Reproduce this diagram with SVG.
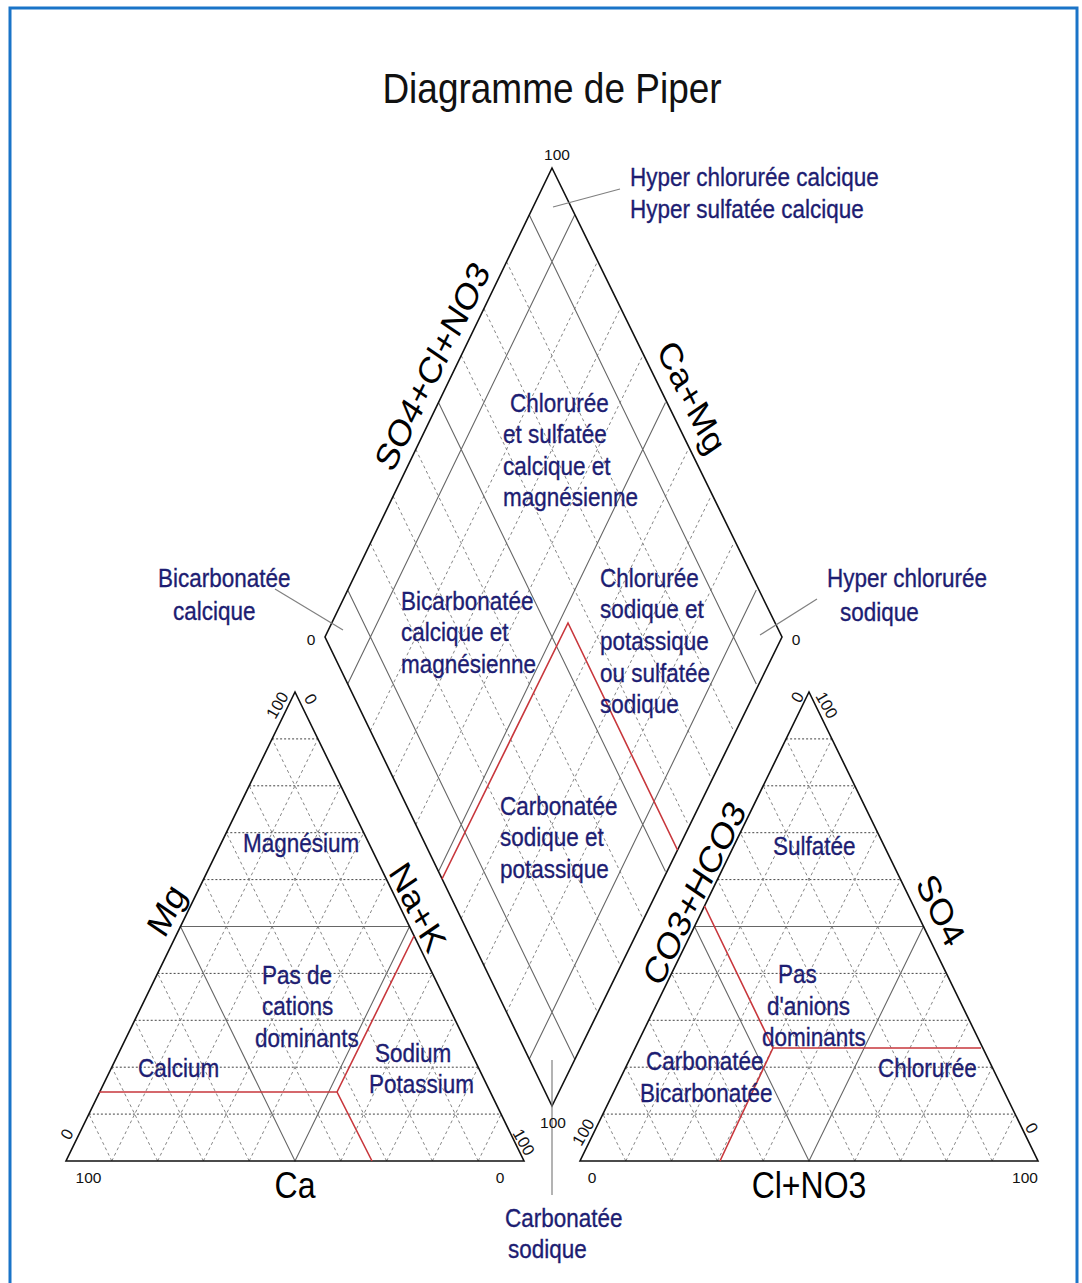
<svg xmlns="http://www.w3.org/2000/svg" xmlns:xlink="http://www.w3.org/1999/xlink" width="1082" height="1283" viewBox="0 0 1082 1283">
<style>
.edge{stroke:#111;stroke-width:1.6;fill:none;stroke-linejoin:miter}
.solid{stroke:#666;stroke-width:1.1;fill:none}
.dash{stroke:#858585;stroke-width:1;stroke-dasharray:3 3;fill:none}
.hdash{stroke:#444;stroke-width:1;stroke-dasharray:2 2;fill:none}
.red{stroke:#c8373c;stroke-width:1.6;fill:none}
.lead{stroke:#808080;stroke-width:1.2;fill:none}
text{font-family:"Liberation Sans",Arial,sans-serif}
.lbl{font-size:22.5px;fill:#1d1d72;stroke:#1d1d72;stroke-width:0.3}
.axis{font-size:32px;fill:#000}
.tick{font-size:15.5px;fill:#111}
.rt{font-size:16.5px}
.title{font-size:37px;fill:#111}
</style>
<defs>
<g id="tri">
<path class="hdash" d="M88.9,1114.1H501.1M111.8,1067.2H478.2M134.7,1020.3H455.3M157.6,973.4H432.4M203.4,879.6H386.6M226.3,832.7H363.7M249.2,785.8H340.8M272.1,738.9H317.9"/>
<path class="dash" d="M111.8,1161L317.9,738.9M157.6,1161L340.8,785.8M203.4,1161L363.7,832.7M249.2,1161L386.6,879.6M340.8,1161L432.4,973.4M386.6,1161L455.3,1020.3M432.4,1161L478.2,1067.2M478.2,1161L501.1,1114.1M111.8,1161L88.9,1114.1M157.6,1161L111.8,1067.2M203.4,1161L134.7,1020.3M249.2,1161L157.6,973.4M340.8,1161L203.4,879.6M386.6,1161L226.3,832.7M432.4,1161L249.2,785.8M478.2,1161L272.1,738.9"/>
<path class="solid" d="M180.5,926.5H409.5L295,1161Z"/>
<path class="edge" d="M66,1161H524L295,692Z"/>
</g>
</defs>
<rect x="0" y="0" width="1082" height="1283" fill="#fff"/>
<rect x="10" y="8" width="1067" height="1300" fill="none" stroke="#1a74c8" stroke-width="3"/>

<text class="title" text-anchor="middle" transform="translate(552,103) scale(1,1.15)">Diagramme de Piper</text>

<g id="diamond">
<path class="dash" d="M370.4,543.2L597.4,1012.2M393.1,496.3L620.1,965.3M415.8,449.4L642.8,918.4M461.2,355.6L688.2,824.6M483.9,308.7L710.9,777.7M506.6,261.8L733.6,730.8M370.4,730.8L597.4,261.8M393.1,777.7L620.1,308.7M415.8,824.6L642.8,355.6M461.2,918.4L688.2,449.4M483.9,965.3L710.9,496.3M506.6,1012.2L733.6,543.2"/>
<path class="solid" d="M347.7,590.1L574.7,1059.1M438.5,402.5L665.5,871.5M529.3,214.9L756.3,683.9M347.7,683.9L574.7,214.9M438.5,871.5L665.5,402.5M529.3,1059.1L756.3,590.1"/>
<path class="edge" d="M552,168L782,637L552,1106L325,637Z"/>
</g>

<g id="left-triangle"><use xlink:href="#tri" href="#tri"/></g>
<g id="right-triangle"><use xlink:href="#tri" href="#tri" x="514"/></g>

<g id="connectors">
<path class="red" d="M99,1092H337L372,1161M337,1092L414,936"/>
<path class="red" d="M442,879L568,623L677.5,850"/>
<path class="red" d="M704.5,906L773,1048H981M773,1048L720,1161"/>
<path class="lead" d="M553,207L620,189"/>
<path class="lead" d="M275,589L343,630"/>
<path class="lead" d="M817,599L760,635"/>
<path class="lead" d="M552,1060V1195"/>
</g>

<g id="axis-labels" class="axis" text-anchor="middle" dominant-baseline="central">
<text transform="translate(432,366) scale(1,1.182) rotate(-60)">SO4+Cl+NO3</text>
<text transform="translate(692,397) scale(1,1.182) rotate(60)">Ca+Mg</text>
<text transform="translate(166,910) scale(1,1.182) rotate(-60)">Mg</text>
<text transform="translate(418,907) scale(1,1.182) rotate(60)">Na+K</text>
<text transform="translate(694,893) scale(1,1.182) rotate(-60)">CO3+HCO3</text>
<text transform="translate(941,910) scale(1,1.182) rotate(60)">SO4</text>
</g>
<g id="base-labels" class="axis" text-anchor="middle">
<text transform="translate(295,1198) scale(1,1.15)">Ca</text>
<text transform="translate(809,1198) scale(1,1.15)">Cl+NO3</text>
</g>

<g id="ticks" class="tick" text-anchor="middle">
<text x="557" y="160">100</text>
<text x="553" y="1128">100</text>
<text x="311" y="645">0</text>
<text x="796" y="645">0</text>
<text x="88.5" y="1183">100</text>
<text x="500" y="1183">0</text>
<text x="592" y="1183">0</text>
<text x="1025" y="1183">100</text>
<g class="rt" dominant-baseline="central">
<text transform="translate(277,705) rotate(-60)">100</text>
<text transform="translate(311,699) rotate(60)">0</text>
<text transform="translate(66.5,1134) rotate(-60)">0</text>
<text transform="translate(524,1142) rotate(60)">100</text>
<text transform="translate(797,697) rotate(-60)">0</text>
<text transform="translate(827,705) rotate(60)">100</text>
<text transform="translate(583,1132) rotate(-60)">100</text>
<text transform="translate(1032,1128) rotate(60)">0</text>
</g>
</g>

<g id="region-labels" class="lbl">
<text transform="translate(630,186) scale(1,1.15)"><tspan x="0" y="0">Hyper chlorurée calcique</tspan><tspan x="0" dy="27.8">Hyper sulfatée calcique</tspan></text>
<text transform="translate(503,412) scale(1,1.15)"><tspan x="7" y="0">Chlorurée</tspan><tspan x="0" dy="27.2">et sulfatée</tspan><tspan x="0" dy="27.2">calcique et</tspan><tspan x="0" dy="27.2">magnésienne</tspan></text>
<text transform="translate(401,610) scale(1,1.15)"><tspan x="0" y="0">Bicarbonatée</tspan><tspan x="0" dy="27.4">calcique et</tspan><tspan x="0" dy="27.4">magnésienne</tspan></text>
<text transform="translate(600,587) scale(1,1.15)"><tspan x="0" y="0">Chlorurée</tspan><tspan x="0" dy="27.4">sodique et</tspan><tspan x="0" dy="27.4">potassique</tspan><tspan x="0" dy="27.4">ou sulfatée</tspan><tspan x="0" dy="27.4">sodique</tspan></text>
<text transform="translate(500,815) scale(1,1.15)"><tspan x="0" y="0">Carbonatée</tspan><tspan x="0" dy="27.4">sodique et</tspan><tspan x="0" dy="27.4">potassique</tspan></text>
<text transform="translate(243,852) scale(1,1.15)">Magnésium</text>
<text transform="translate(255,984) scale(1,1.15)"><tspan x="7" y="0">Pas de</tspan><tspan x="7" dy="27.2">cations</tspan><tspan x="0" dy="27.2">dominants</tspan></text>
<text transform="translate(138,1077) scale(1,1.15)">Calcium</text>
<text transform="translate(369,1062) scale(1,1.15)"><tspan x="6" y="0">Sodium</tspan><tspan x="0" dy="27">Potassium</tspan></text>
<text transform="translate(773,855) scale(1,1.15)">Sulfatée</text>
<text transform="translate(762,983) scale(1,1.15)"><tspan x="16" y="0">Pas</tspan><tspan x="5" dy="27.6">d'anions</tspan><tspan x="0" dy="27.6">dominants</tspan></text>
<text transform="translate(640,1070) scale(1,1.15)"><tspan x="6" y="0">Carbonatée</tspan><tspan x="0" dy="27.6">Bicarbonatée</tspan></text>
<text transform="translate(878,1077) scale(1,1.15)">Chlorurée</text>
<text transform="translate(158,587) scale(1,1.15)"><tspan x="0" y="0">Bicarbonatée</tspan><tspan x="15" dy="28.7">calcique</tspan></text>
<text transform="translate(827,587) scale(1,1.15)"><tspan x="0" y="0">Hyper chlorurée</tspan><tspan x="13" dy="29.5">sodique</tspan></text>
<text transform="translate(505,1227) scale(1,1.15)"><tspan x="0" y="0">Carbonatée</tspan><tspan x="3" dy="27">sodique</tspan></text>
</g>
</svg>
